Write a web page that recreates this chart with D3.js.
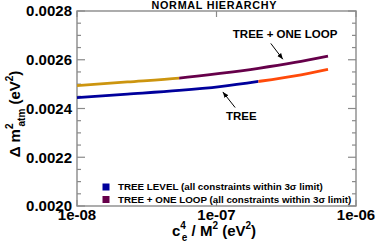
<!DOCTYPE html>
<html>
<head>
<meta charset="utf-8">
<script src="https://cdn.jsdelivr.net/npm/d3@7"></script>
<style>
body { margin: 0; background: #fff; }
text { font-family: "Liberation Sans", Arial, sans-serif; font-weight: bold; fill: #000; }
</style>
</head>
<body>
<svg id="chart" width="377" height="248"></svg>
<script>
// données
var massX = [1e-8, 2.3e-8, 5.4e-8, 1.06e-7, 2e-7, 3.65e-7, 6.3e-7];
var treeLoop = [0.002494, 0.002509, 0.002525, 0.002544, 0.002565, 0.002589, 0.002615];
var tree = [0.002445, 0.002459, 0.002474, 0.00249, 0.002511, 0.002534, 0.002561];
var loopSplit = 5.4e-8;   // or -> violet
var treeSplit = 2e-7;     // bleu -> orange
var xTicks = [1e-8, 1e-7, 1e-6];
var xTickLabels = ["1e-08", "1e-07", "1e-06"];
var yTicks = [0.0020, 0.0022, 0.0024, 0.0026, 0.0028];
var yTickLabels = ["0.0020", "0.0022", "0.0024", "0.0026", "0.0028"];
var legendLabels = ["TREE LEVEL (all constraints within 3\u03c3  limit)",
	"TREE + ONE LOOP (all constraints within 3\u03c3 limit)"];
var legendColors = ["#00009c", "#66004a"];

window.onload = function () {

	var mLeft = 77, mRight = 356, mTop = 11, mBottom = 206;
	var svg = d3.select("#chart");

	var x = d3.scaleLog().domain([1e-8, 1e-6]).range([mLeft, mRight]);
	var y = d3.scaleLinear().domain([0.002, 0.0028]).range([mBottom, mTop]);

	// cadre
	var frameColor = "#8a8a8a";
	svg.append("rect")
		.attr("x", mLeft).attr("y", mTop)
		.attr("width", mRight - mLeft).attr("height", mBottom - mTop)
		.attr("fill", "none").attr("stroke", frameColor).attr("stroke-width", 1.4);

	// graduations y (gauche et droite, vers l'intérieur)
	var yMinor = d3.range(0, 17).map(function (i) { return 0.002 + i * 0.00005; });
	yMinor.forEach(function (v, i) {
		var len = (i % 4 === 0) ? 8 : 4;
		svg.append("line").attr("x1", mLeft).attr("x2", mLeft + len)
			.attr("y1", y(v)).attr("y2", y(v))
			.attr("stroke", frameColor).attr("stroke-width", 1.2);
		svg.append("line").attr("x1", mRight).attr("x2", mRight - len)
			.attr("y1", y(v)).attr("y2", y(v))
			.attr("stroke", frameColor).attr("stroke-width", 1.2);
	});
	// graduations x
	xTicks.forEach(function (v) {
		svg.append("line").attr("x1", x(v)).attr("x2", x(v))
			.attr("y1", mBottom).attr("y2", mBottom - 6)
			.attr("stroke", frameColor).attr("stroke-width", 1.2);
		svg.append("line").attr("x1", x(v)).attr("x2", x(v))
			.attr("y1", mTop).attr("y2", mTop + 6)
			.attr("stroke", frameColor).attr("stroke-width", 1.2);
	});

	// étiquettes des axes
	svg.selectAll(".ylab").data(yTicks).enter().append("text")
		.attr("x", 72).attr("y", function (d) { return y(d); })
		.attr("dy", "0.36em")
		.attr("text-anchor", "end")
		.attr("font-size", 15)
		.text(function (d, i) { return yTickLabels[i]; });

	svg.selectAll(".xlab").data(xTicks).enter().append("text")
		.attr("x", function (d) { return x(d); }).attr("y", 220)
		.attr("text-anchor", "middle")
		.attr("font-size", 15)
		.text(function (d, i) { return xTickLabels[i]; });

	// titre
	svg.append("text").attr("x", 214).attr("y", 9.3)
		.attr("text-anchor", "middle").attr("font-size", 10.8)
		.attr("textLength", 125).attr("lengthAdjust", "spacing")
		.text("NORMAL HIERARCHY");

	// titre axe x
	var xt = svg.append("text").attr("x", 214).attr("y", 236)
		.attr("text-anchor", "middle").attr("font-size", 15);
	xt.append("tspan").text("c");
	xt.append("tspan").attr("font-size", 10).attr("dy", -7).text("4");
	xt.append("tspan").attr("font-size", 10).attr("dx", -4).attr("dy", 12).text("e");
	xt.append("tspan").attr("dy", -5).text(" / M");
	xt.append("tspan").attr("font-size", 10).attr("dy", -7).text("2");
	xt.append("tspan").attr("dy", 7).text(" (eV");
	xt.append("tspan").attr("font-size", 10).attr("dy", -7).text("2");
	xt.append("tspan").attr("dy", 7).text(")");

	// titre axe y
	var yt = svg.append("text")
		.attr("transform", "translate(20,114) rotate(-90)")
		.attr("text-anchor", "middle").attr("font-size", 15);
	yt.append("tspan").text("\u0394 m");
	yt.append("tspan").attr("font-size", 10).attr("dy", -7).text("2");
	yt.append("tspan").attr("font-size", 10).attr("dx", -3).attr("dy", 12).text("atm");
	yt.append("tspan").attr("dy", -5).text(" (eV");
	yt.append("tspan").attr("font-size", 10).attr("dy", -7).text("2");
	yt.append("tspan").attr("dy", 7).text(")");

	// courbes, coupées en deux couleurs par des clipPath
	var defs = svg.append("defs");
	function addClip(id, x0, x1) {
		defs.append("clipPath").attr("id", id).append("rect")
			.attr("x", x0).attr("y", 0).attr("width", x1 - x0).attr("height", 248);
	}
	addClip("loopA", 0, x(loopSplit));
	addClip("loopB", x(loopSplit), 377);
	addClip("treeA", 0, x(treeSplit));
	addClip("treeB", x(treeSplit), 377);

	var line = d3.line()
		.x(function (d) { return x(d[0]); })
		.y(function (d) { return y(d[1]); })
		.curve(d3.curveMonotoneX);

	var loopPts = d3.zip(massX, treeLoop);
	var treePts = d3.zip(massX, tree);

	[["loopA", loopPts, "#cc950f"], ["loopB", loopPts, "#66004a"],
	 ["treeA", treePts, "#00009c"], ["treeB", treePts, "#ff4a0a"]].forEach(function (s) {
		svg.append("path").attr("d", line(s[1]))
			.attr("clip-path", "url(#" + s[0] + ")")
			.attr("fill", "none").attr("stroke", s[2]).attr("stroke-width", 2.8);
	});

	// annotations avec flèches
	defs.append("marker").attr("id", "fleche")
		.attr("viewBox", "0 0 10 10").attr("refX", 10).attr("refY", 5)
		.attr("markerWidth", 6).attr("markerHeight", 6)
		.attr("orient", "auto")
		.append("path").attr("d", "M0,1 L10,5 L0,9 Z").attr("fill", "#000");

	svg.append("text").attr("x", x(1.31e-7)).attr("y", y(0.002689))
		.attr("font-size", 11.5).text("TREE + ONE LOOP");
	svg.append("line")
		.attr("x1", x(2.45e-7)).attr("y1", y(0.002667))
		.attr("x2", x(2.99e-7)).attr("y2", y(0.002602))
		.attr("stroke", "#000").attr("stroke-width", 1)
		.attr("marker-end", "url(#fleche)");

	svg.append("text").attr("x", x(1.17e-7)).attr("y", y(0.002353))
		.attr("font-size", 11.5).text("TREE");
	svg.append("line")
		.attr("x1", x(1.36e-7)).attr("y1", y(0.002404))
		.attr("x2", x(1.11e-7)).attr("y2", y(0.002468))
		.attr("stroke", "#000").attr("stroke-width", 1)
		.attr("marker-end", "url(#fleche)");

	// légende
	legendLabels.forEach(function (lab, i) {
		var ly = 186.8 + i * 12.5;
		svg.append("rect").attr("x", 102.5).attr("y", ly - 3.3)
			.attr("width", 7).attr("height", 7)
			.attr("fill", legendColors[i]);
		svg.append("text").attr("x", 118).attr("y", ly).attr("dy", "0.35em")
			.attr("font-size", 9.8).text(lab);
	});
};
</script>
</body>
</html>
